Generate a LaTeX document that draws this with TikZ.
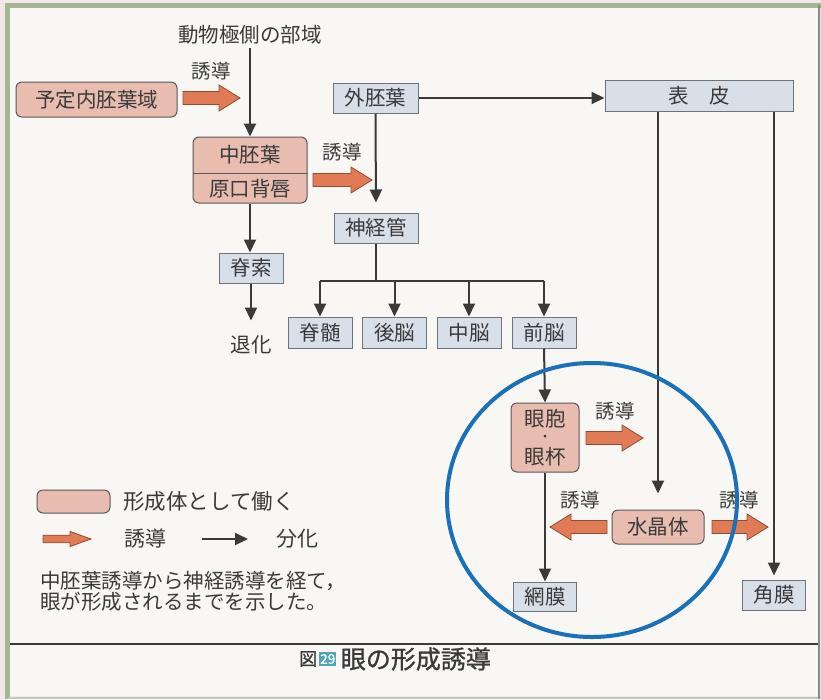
\documentclass[tikz,border=0pt]{standalone}
\usepackage{fontspec}
\setmainfont{Noto Sans CJK JP}
\usetikzlibrary{arrows.meta}

\definecolor{pagepink}{HTML}{F2E7E9}
\definecolor{paper}{HTML}{F8F7F3}
\definecolor{framegreen}{HTML}{A4B592}
\definecolor{organfill}{HTML}{E8BDB0}
\definecolor{tissuefill}{HTML}{D7DFE9}
\definecolor{boxedge}{HTML}{6E737A}
\definecolor{inkgray}{HTML}{3A3A3A}
\definecolor{arrowfill}{HTML}{E07B55}
\definecolor{arrowedge}{HTML}{8E4E36}
\definecolor{ringblue}{HTML}{1B70BA}
\definecolor{captionteal}{HTML}{52A6B4}

\begin{document}
\begin{tikzpicture}[x=1pt,y=-1pt,
  every node/.style={text=inkgray, font=\fontsize{20.5}{24}\selectfont, inner sep=0pt},
  organizer/.style={draw=inkgray!85, fill=organfill, rounded corners=6pt, line width=1pt},
  tissue/.style={draw=boxedge, fill=tissuefill, line width=1pt},
  diff/.style={draw=inkgray, line width=2pt, -{Triangle[width=12pt,length=13pt]}},
  link/.style={draw=inkgray, line width=2pt},
  indlabel/.style={font=\fontsize{19.5}{22}\selectfont},
  indfill/.style={fill=arrowfill, draw=arrowedge, line width=0.8pt, line join=miter},
  pics/indarrow/.style={code={
    \path[indfill] (0,-6.5) -- ({#1-21},-6.5) -- ({#1-21},-13) -- (#1,0)
      -- ({#1-21},13) -- ({#1-21},6.5) -- (0,6.5) -- cycle;}}
]
\useasboundingbox (0,0) rectangle (821,699);

% page and frame
\fill[pagepink] (0,0) rectangle (821,699);
\fill[paper] (8,6) rectangle (818,696);
\draw[framegreen, line width=4.5pt] (7.5,699) -- (7.5,5.5) -- (821,5.5);
\draw[framegreen!70, line width=2pt] (7.5,697.5) -- (821,697.5);
\draw[inkgray!60, line width=2pt] (819,5) -- (819,699);

% nodes of the scheme
\node (animal) at (250,35) {動物極側の部域};
\node[organizer, minimum width=161pt, minimum height=35pt] (endo) at (96.5,99.5) {予定内胚葉域};
\node[organizer, minimum width=114pt, minimum height=66pt] (meso) at (250,170) {};
\draw[draw=inkgray!85, line width=1pt] (meso.west |- 0,173) -- (meso.east |- 0,173);
\node (mesotop) at (250,155) {中胚葉};
\node (mesobot) at (250,188.5) {原口背唇};
\node[tissue, minimum width=85pt, minimum height=30pt] (ecto) at (375.5,98) {外胚葉};
\node[tissue, minimum width=188pt, minimum height=31pt] (epi) at (699,95.5) {表　皮};
\node[tissue, minimum width=84pt, minimum height=30pt] (tube) at (376,228) {神経管};
\node[tissue, minimum width=64pt, minimum height=30pt] (noto) at (251,268) {脊索};
\node (regress) at (251,345) {退化};
\node[tissue, minimum width=64pt, minimum height=31pt] (spinal) at (320,332.5) {脊髄};
\node[tissue, minimum width=64pt, minimum height=31pt] (hind) at (394.5,332.5) {後脳};
\node[tissue, minimum width=64pt, minimum height=31pt] (mid) at (469,332.5) {中脳};
\node[tissue, minimum width=64pt, minimum height=31pt] (fore) at (544,332.5) {前脳};
\node[organizer, minimum width=68pt, minimum height=69pt] (vesicle) at (545,437.5) {};
\node (vesicletop) at (545,419) {眼胞};
\node[font=\fontsize{13}{14}\selectfont] (vesicledot) at (545,438) {・};
\node (vesiclebot) at (545,457) {眼杯};
\node[organizer, minimum width=92pt, minimum height=34pt] (lens) at (658,527) {水晶体};
\node[tissue, minimum width=63pt, minimum height=29pt] (retina) at (545,596.5) {網膜};
\node[tissue, minimum width=63pt, minimum height=30pt] (cornea) at (774,595) {角膜};

% differentiation connectors
\draw[diff, shorten <=3pt] (animal.south) -- (meso.north);
\draw[diff] (meso.south) -- (meso.south |- noto.north);
\draw[diff, shorten >=15pt] (noto.south) -- (regress.north);
\draw[diff] (ecto.east) -- (ecto.east -| epi.west);
\draw[diff, shorten >=10pt] (ecto.south) -- (tube.north);
\draw[link] (tube.south) -- ++(0,37) coordinate (fork);
\draw[link] (fork -| spinal.north) -- (fork -| fore.north);
\draw[diff] (fork -| spinal.north) -- (spinal.north);
\draw[diff] (fork -| hind.north) -- (hind.north);
\draw[diff] (fork -| mid.north) -- (mid.north);
\draw[diff] (fork -| fore.north) -- (fore.north);
\draw[diff] (fore.south) -- (vesicle.north);
\draw[diff] (vesicle.south) -- (vesicle.south |- retina.north);
\draw[diff, shorten >=16pt] (epi.south -| lens.north) -- (lens.north);
\draw[diff, shorten >=4pt] (epi.south -| cornea.north) -- (cornea.north);

% induction arrows and their labels
\pic at (183,98) {indarrow=57};
\node[indlabel] (ind1) at (211,71) {誘導};
\pic at (313,180) {indarrow=59};
\node[indlabel] (ind2) at (342,152) {誘導};
\pic at (586,438) {indarrow=57};
\node[indlabel] (ind3) at (615,411) {誘導};
\pic[rotate=180] at (607,527) {indarrow=57};
\node[indlabel] (ind4) at (580,500) {誘導};
\pic at (712,527) {indarrow=56};
\node[indlabel] (ind5) at (739,500) {誘導};

% legend
\node[organizer, minimum width=73pt, minimum height=23pt] (keybox) at (73.5,501.5) {};
\node[anchor=west, font=\fontsize{21.5}{24}\selectfont] (keytext) at (123,501) {形成体として働く};
\pic[yscale=0.58] at (43,539) {indarrow=48};
\node[anchor=west, font=\fontsize{21}{24}\selectfont] (keyind) at (124,539) {誘導};
\coordinate (keyfrom) at (202,539);
\coordinate (keyto) at (248,539);
\draw[diff] (keyfrom) -- (keyto);
\node[anchor=west, font=\fontsize{21}{24}\selectfont] (keydiff) at (276,539) {分化};
\node[anchor=west, align=left, font=\fontsize{20.5}{21.5}\selectfont] (note) at (40,591.5)
  {中胚葉誘導から神経誘導を経て，\\眼が形成されるまでを示した。};

% caption
\draw[inkgray, line width=1.2pt] (10,644) -- (818,644);
\node[anchor=west, font=\fontsize{18}{20}\selectfont\addfontfeatures{FakeBold=1}] (figword) at (299,659) {図};
\node[anchor=west, fill=captionteal, text=white, inner xsep=1.2pt, inner ysep=2pt,
      font=\fontsize{13.5}{15}\selectfont\addfontfeatures{FakeBold=1}] (fignum)
      at ([xshift=1.5pt]figword.east) {29};
\node[anchor=west, font=\fontsize{25}{28}\selectfont\addfontfeatures{FakeBold=1}] (figtitle)
      at ([xshift=4pt]fignum.east) {眼の形成誘導};

% highlight ring
\draw[ringblue, line width=4pt] (592,500) ellipse [x radius=145pt, y radius=137pt];
\end{tikzpicture}
\end{document}
